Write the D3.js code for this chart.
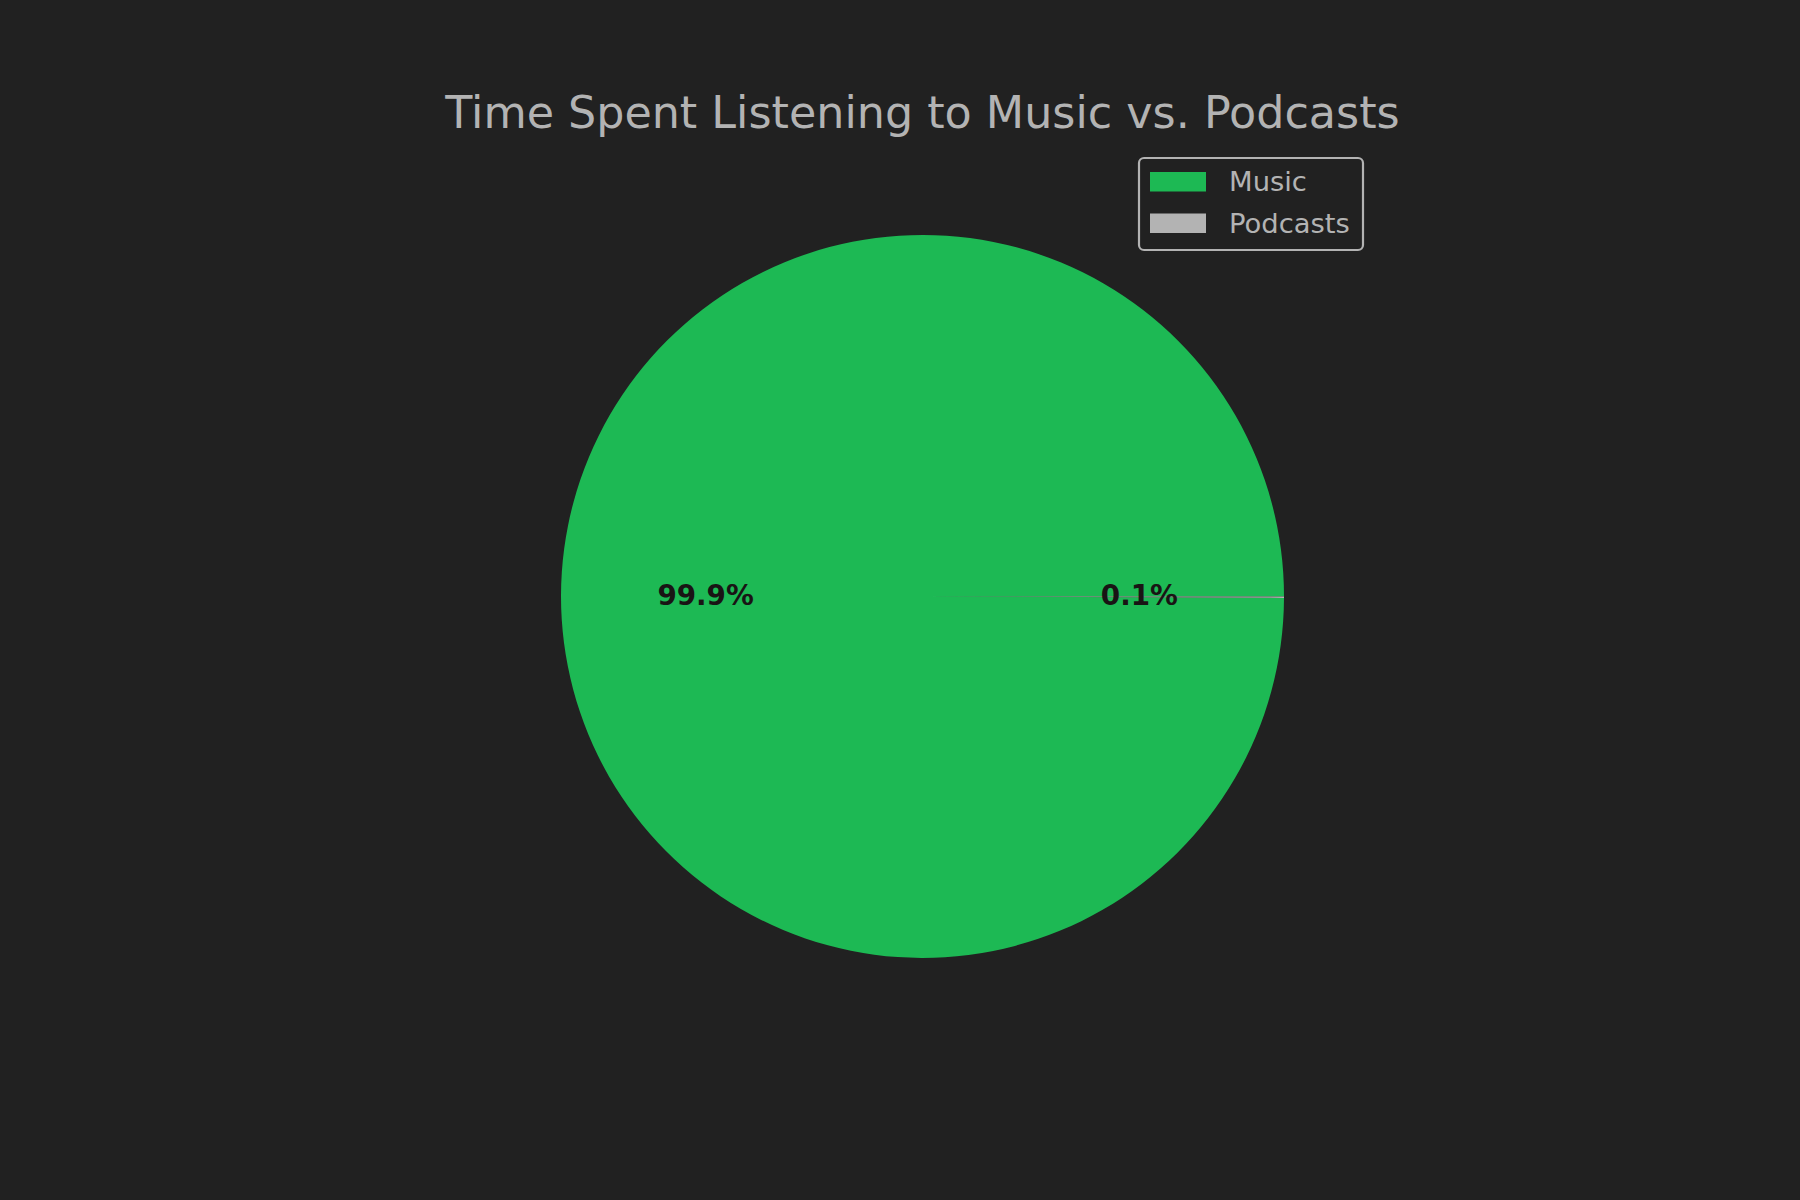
<!DOCTYPE html>
<html>
<head>
<meta charset="utf-8">
<script src="https://cdn.jsdelivr.net/npm/d3@7"></script>
<style>
  html, body { margin: 0; padding: 0; background: #212121; }
  svg { display: block; }
</style>
</head>
<body>
<script>
const categories = ["Music", "Podcasts"];
const values = [52840, 32];
const colors = ["#1DB954", "#B3B3B3"];
const titleText = "Time Spent Listening to Music vs. Podcasts";

const W = 1800, H = 1200;
const cx = 922.5, cy = 596.5, R = 361.5;
const font = "'DejaVu Sans', sans-serif";

const svg = d3.select("body").append("svg")
  .attr("width", W).attr("height", H)
  .style("background", "#212121");

svg.append("rect").attr("width", W).attr("height", H).attr("fill", "#212121");

const data = categories.map((c, i) => ({ name: c, value: values[i], color: colors[i] }));
const total = d3.sum(values);

// matplotlib-style: start at 3 o'clock, counterclockwise
const pie = d3.pie().value(d => d.value).sort(null)
  .startAngle(Math.PI / 2).endAngle(Math.PI / 2 - 2 * Math.PI);
const arcs = pie(data);
const arc = d3.arc().innerRadius(0).outerRadius(R);
const labelArc = d3.arc().innerRadius(R * 0.6).outerRadius(R * 0.6);

const g = svg.append("g").attr("transform", `translate(${cx},${cy})`);
g.selectAll("path.slice").data(arcs).enter().append("path")
  .attr("class", "slice")
  .attr("d", arc)
  .attr("fill", d => d.data.color);

const fmt = d3.format(".1f");
g.selectAll("text.pct").data(arcs).enter().append("text")
  .attr("class", "pct")
  .attr("transform", d => {
    const c = labelArc.centroid(d);
    return `translate(${c[0]},${c[1] - 1})`;
  })
  .attr("text-anchor", "middle")
  .attr("dominant-baseline", "central")
  .attr("font-family", font)
  .attr("font-weight", "bold")
  .attr("font-size", "27.8px")
  .attr("fill", "#191414")
  .text(d => fmt(d.data.value / total * 100) + "%");

// Title
svg.append("text")
  .attr("x", cx).attr("y", 128)
  .attr("text-anchor", "middle")
  .attr("font-family", font)
  .attr("font-size", "44.4px")
  .attr("fill", "#B3B3B3")
  .text(titleText);

// Legend
const lg = svg.append("g");
lg.append("rect")
  .attr("x", 1139).attr("y", 158).attr("width", 224).attr("height", 92)
  .attr("rx", 5).attr("ry", 5)
  .attr("fill", "#212121")
  .attr("stroke", "#B3B3B3").attr("stroke-width", 2.2);
const items = lg.selectAll("g.item").data(data).enter().append("g")
  .attr("class", "item")
  .attr("transform", (d, i) => `translate(0,${i * 41.5})`);
items.append("rect")
  .attr("x", 1150).attr("y", 172).attr("width", 56).attr("height", 19.5)
  .attr("fill", d => d.color);
items.append("text")
  .attr("x", 1229).attr("y", 191)
  .attr("font-family", font)
  .attr("font-size", "27.4px")
  .attr("fill", "#B3B3B3")
  .text(d => d.name);
</script>
</body>
</html>
